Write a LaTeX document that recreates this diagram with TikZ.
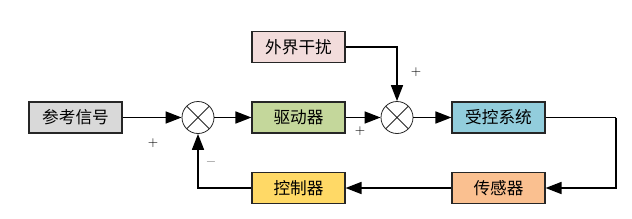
\documentclass[tikz,border=0pt]{standalone}
\usepackage{fontspec}
\newfontfamily\cjk{Noto Sans CJK SC}
\usetikzlibrary{arrows.meta}
\definecolor{cgray}{HTML}{D9D9D9}
\definecolor{cgreen}{HTML}{C4D79B}
\definecolor{cpink}{HTML}{F2DCDB}
\definecolor{cblue}{HTML}{92CDDC}
\definecolor{corange}{HTML}{FAC090}
\definecolor{cyellow}{HTML}{FFD966}
\begin{document}
\begin{tikzpicture}[x=0.75pt,y=-0.75pt,
  blk/.style={draw=black!85,line width=0.8pt,minimum width=69.75pt,minimum height=23.25pt,inner sep=0pt,font=\cjk\fontsize{12.5}{14}\selectfont},
  summer/.style={draw=black!85,circle,line width=0.6pt,minimum size=24pt,inner sep=0pt,
    path picture={\draw[line width=0.6pt] (path picture bounding box.north west)--(path picture bounding box.south east) (path picture bounding box.north east)--(path picture bounding box.south west);}},
  conn/.style={line width=1.2pt,-{Triangle[length=12pt,width=9pt]}},
  line/.style={line width=1.2pt},
  sgn/.style={font=\fontsize{10}{12}\selectfont,inner sep=0pt}]
\useasboundingbox (0,0) rectangle (632,218);
\node[blk,fill=cgray] (ref) at (75.5,117.5) {参考信号};
\node[summer] (s1) at (198,117.5) {};
\node[blk,fill=cgreen] (drv) at (298.5,117.5) {驱动器};
\node[summer] (s2) at (397,117.5) {};
\node[blk,fill=cblue] (sys) at (498.5,117.5) {受控系统};
\node[blk,fill=cpink] (dist) at (298.5,47) {外界干扰};
\node[blk,fill=corange] (sen) at (498.5,188) {传感器};
\node[blk,fill=cyellow] (ctl) at (298.5,188) {控制器};
\coordinate (rc) at (616,117.5);
\draw[conn] (ref) -- (s1);
\draw[conn] (s1) -- (drv);
\draw[conn] (drv) -- (s2);
\draw[conn] (s2) -- (sys);
\draw[conn] (dist.east) -| (s2.north);
\draw[line] (sys.east) -- (rc);
\draw[conn] (rc) |- (sen.east);
\draw[conn] (sen) -- (ctl);
\draw[conn] (ctl.west) -| (s1.south);
\node[sgn] (p1) at (153,143) {+};
\node[sgn,text=black!55] (m1) at (211,162) {$-$};
\node[sgn] (p2) at (360,131) {+};
\node[sgn] (p3) at (416,72) {+};
\end{tikzpicture}
\end{document}
